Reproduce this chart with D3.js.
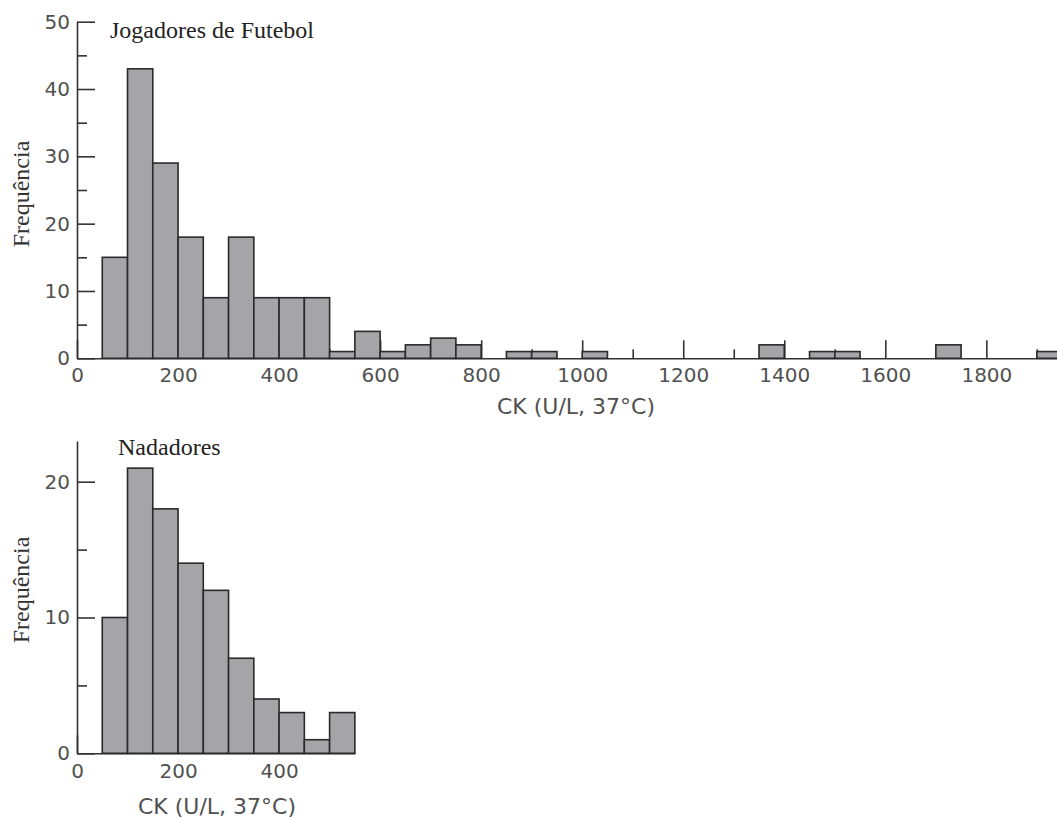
<!DOCTYPE html>
<html>
<head>
<meta charset="utf-8">
<script src="https://cdn.jsdelivr.net/npm/d3@7"></script>
<style>
  body { margin: 0; background: white; }
  .tick text { font-family: "DejaVu Sans", sans-serif; fill: #505050; }
</style>
</head>
<body>
<div id="chart"></div>
<script>
// bins are 50 U/L wide, value = left edge of the bin
var futebolBins = [50, 100, 150, 200, 250, 300, 350, 400, 450, 500, 550, 600, 650, 700, 750, 800,
    850, 900, 950, 1000, 1050, 1100, 1150, 1200, 1250, 1300, 1350, 1400, 1450, 1500, 1550, 1600,
    1650, 1700, 1750, 1800, 1850, 1900];
var futebolCounts = [15, 43, 29, 18, 9, 18, 9, 9, 9, 1, 4, 1, 2, 3, 2, 0,
    1, 1, 0, 1, 0, 0, 0, 0, 0, 0, 2, 0, 1, 1, 0, 0,
    0, 2, 0, 0, 0, 1];
var nadadoresBins = [50, 100, 150, 200, 250, 300, 350, 400, 450, 500];
var nadadoresCounts = [10, 21, 18, 14, 12, 7, 4, 3, 1, 3];

var binWidth = 50;
var topXTicks = [0, 200, 400, 600, 800, 1000, 1200, 1400, 1600, 1800];
var topXMinor = [100, 300, 500, 700, 900, 1100, 1300, 1500, 1700, 1900];
var topYTicks = [0, 10, 20, 30, 40, 50];
var topYMinor = [5, 15, 25, 35, 45];
var botXTicks = [0, 200, 400];
var botXMinor = [100, 300, 500];
var botYTicks = [0, 10, 20];
var botYMinor = [5, 15];

var svg = d3.select("#chart")
    .append("svg")
    .attr("width", 1057)
    .attr("height", 819);

var pxPerUnit = 0.5052;
var left = 77;
var fmt = d3.format("d");

function drawPanel(opts) {
    var x = d3.scaleLinear().domain([0, opts.xMax]).range([left, left + opts.xMax * pxPerUnit]);
    var y = d3.scaleLinear().domain([0, opts.yMax]).range([opts.y0, opts.yTop]);
    var g = svg.append("g");

    // minor ticks first, then major axis
    g.append("g")
        .attr("transform", "translate(0," + opts.y0 + ")")
        .call(d3.axisBottom(x).tickValues(opts.xMinor).tickFormat("").tickSizeInner(-9).tickSizeOuter(0))
        .call(function(a) { a.select(".domain").remove(); });
    g.append("g")
        .attr("transform", "translate(" + left + ",0)")
        .call(d3.axisLeft(y).tickValues(opts.yMinor).tickFormat("").tickSizeInner(-10).tickSizeOuter(0))
        .call(function(a) { a.select(".domain").remove(); });

    var xAxis = g.append("g")
        .attr("transform", "translate(0," + opts.y0 + ")")
        .call(d3.axisBottom(x).tickValues(opts.xTicks).tickFormat(fmt).tickSizeInner(-18).tickSizeOuter(0).tickPadding(opts.xPad));
    xAxis.selectAll("text").attr("font-size", 20);

    var yAxis = g.append("g")
        .attr("transform", "translate(" + left + ",0)")
        .call(d3.axisLeft(y).tickValues(opts.yTicks).tickFormat(fmt).tickSizeInner(-18).tickSizeOuter(0).tickPadding(7));
    yAxis.selectAll("text").attr("font-size", 20);

    g.selectAll(".domain, .tick line").attr("stroke", "#333").attr("stroke-width", 1.6);

    g.append("g")
        .selectAll("rect")
        .data(opts.bins.filter(function(d, i) { return opts.counts[i] > 0; }))
        .join("rect")
        .attr("x", function(d) { return x(d); })
        .attr("width", function(d) { return x(d + binWidth) - x(d); })
        .attr("y", function(d) { return y(opts.counts[opts.bins.indexOf(d)]); })
        .attr("height", function(d) { return opts.y0 - y(opts.counts[opts.bins.indexOf(d)]); })
        .style("fill", "#a5a5a8")
        .style("stroke", "#2a2a2a")
        .style("stroke-width", 1.6);

    g.append("text")
        .attr("x", opts.titleX)
        .attr("y", opts.titleY)
        .attr("font-family", "Liberation Serif, serif")
        .attr("font-size", 24)
        .attr("fill", "#222")
        .text(opts.title);

    g.append("text")
        .attr("transform", "translate(29," + opts.ylabY + ") rotate(-90)")
        .attr("text-anchor", "middle")
        .attr("font-family", "Liberation Serif, serif")
        .attr("font-size", 24)
        .attr("fill", "#333")
        .text("Frequência");

    g.append("text")
        .attr("x", opts.xlabX)
        .attr("y", opts.xlabY)
        .attr("text-anchor", "middle")
        .attr("font-family", "DejaVu Sans, sans-serif")
        .attr("font-size", 22)
        .attr("fill", "#505050")
        .text("CK (U/L, 37°C)");
}

drawPanel({
    bins: futebolBins, counts: futebolCounts,
    xMax: 2000, yMax: 50, y0: 358.3, yTop: 21.7,
    xTicks: topXTicks, xMinor: topXMinor, yTicks: topYTicks, yMinor: topYMinor, xPad: 10,
    title: "Jogadores de Futebol", titleX: 110, titleY: 38,
    ylabY: 194, xlabX: 576, xlabY: 414
});

drawPanel({
    bins: nadadoresBins, counts: nadadoresCounts,
    xMax: 550, yMax: 23, y0: 753.3, yTop: 753.3 - 23 * 13.58,
    xTicks: botXTicks, xMinor: botXMinor, yTicks: botYTicks, yMinor: botYMinor, xPad: 11,
    title: "Nadadores", titleX: 118, titleY: 455,
    ylabY: 590, xlabX: 217, xlabY: 814
});
</script>
</body>
</html>
